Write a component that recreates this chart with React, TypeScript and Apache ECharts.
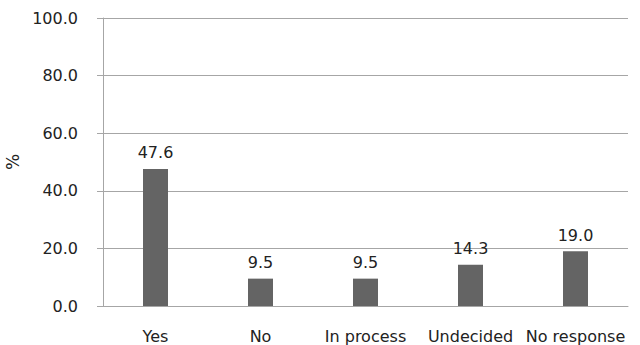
import React, { useEffect, useRef } from "react";
import * as echarts from "echarts";

const categories = ["Yes", "No", "In process", "Undecided", "No response"];
const values = [47.6, 9.5, 9.5, 14.3, 19.0];

export default function App() {
  const ref = useRef<HTMLDivElement>(null);
  useEffect(() => {
    const chart = echarts.init(ref.current!, undefined, { renderer: "svg" });
    const font = "'DejaVu Sans', sans-serif";
    chart.setOption({
      animation: false,
      grid: { left: 103, right: 12, top: 18, bottom: 39, containLabel: false, outerBoundsMode: "none" },
      xAxis: {
        type: "category",
        data: categories,
        axisLine: { lineStyle: { color: "#a6a6a6", width: 1 } },
        axisTick: { show: false },
        axisLabel: { color: "#222", fontSize: 16, fontFamily: font, margin: 22, interval: 0 },
      },
      yAxis: {
        type: "value",
        min: 0,
        max: 100,
        interval: 20,
        name: "%",
        nameLocation: "middle",
        nameGap: 78,
        nameRotate: 90,
        nameTextStyle: { color: "#222", fontSize: 17, fontFamily: font },
        axisLine: { show: true, lineStyle: { color: "#a6a6a6", width: 1 } },
        axisTick: { show: true, length: 6, lineStyle: { color: "#a6a6a6" } },
        splitLine: { lineStyle: { color: "#a6a6a6", width: 1 } },
        axisLabel: {
          color: "#222",
          fontSize: 16,
          fontFamily: font,
          margin: 25,
          formatter: (v: number) => v.toFixed(1),
        },
      },
      series: [
        {
          type: "bar",
          data: values,
          barWidth: 25,
          itemStyle: { color: "#646464" },
          label: {
            show: true,
            position: "top",
            distance: 8,
            color: "#222",
            fontSize: 16,
            fontFamily: font,
            formatter: (p: any) => p.value.toFixed(1),
          },
        },
      ],
    });
    return () => chart.dispose();
  }, []);
  return <div ref={ref} style={{ width: 640, height: 345, position: "absolute", left: 0, top: 0 }} />;
}
